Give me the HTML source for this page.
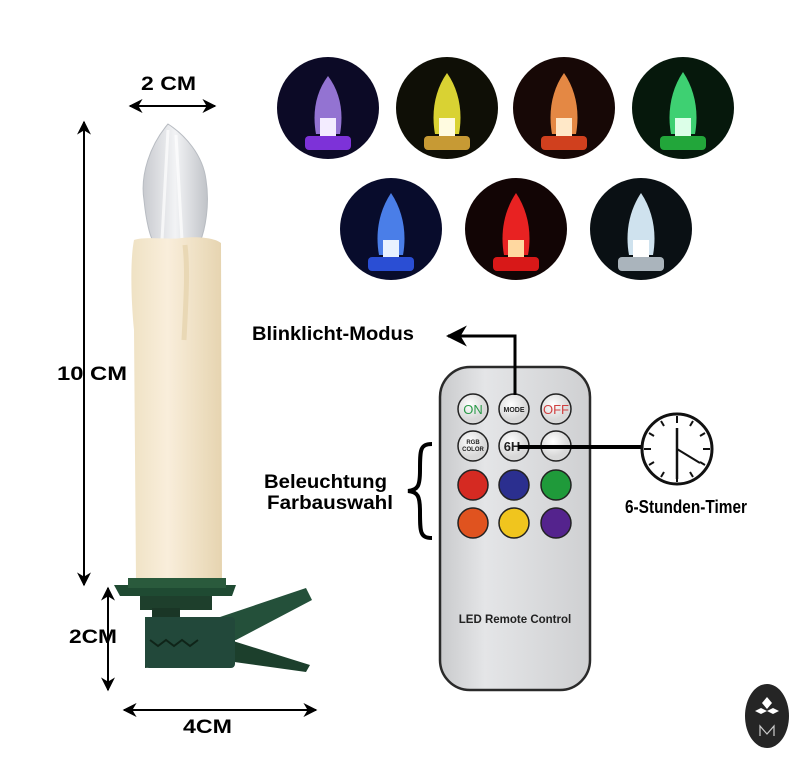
<!DOCTYPE html>
<html><head><meta charset="utf-8"><style>
html,body{margin:0;padding:0;background:#fff;}
svg{display:block;font-family:"Liberation Sans",Arial,sans-serif;}
</style></head><body>
<svg width="803" height="768" viewBox="0 0 803 768" xmlns="http://www.w3.org/2000/svg">
<defs>
<marker id="ah" viewBox="0 0 10 10" refX="9" refY="5" markerWidth="7" markerHeight="7" orient="auto-start-reverse"><path d="M0,0 L10,5 L0,10 L3,5 z" fill="#000"/></marker>
<linearGradient id="cand" x1="0" x2="1"><stop offset="0" stop-color="#efe2c4"/><stop offset="0.4" stop-color="#f9eedb"/><stop offset="1" stop-color="#e6d4b0"/></linearGradient>
<linearGradient id="rem" x1="0" x2="1"><stop offset="0" stop-color="#c9cacc"/><stop offset="0.3" stop-color="#e4e5e7"/><stop offset="1" stop-color="#cfd0d2"/></linearGradient>
<radialGradient id="btn" cx="0.4" cy="0.35"><stop offset="0" stop-color="#fff"/><stop offset="1" stop-color="#d8d8d8"/></radialGradient>
<linearGradient id="flame" x1="0" x2="1"><stop offset="0" stop-color="#c8cacf"/><stop offset="0.5" stop-color="#f2f3f5"/><stop offset="1" stop-color="#c0c3c8"/></linearGradient>
</defs>

<!-- color circles -->
<g>
<circle cx="328" cy="108" r="51" fill="#0c0a26"/><path d="M328,76 C316,92 312,112 316,134 L340,134 C344,112 340,92 328,76z" fill="#a27ee6" opacity="0.9"/><rect x="320" y="118" width="16" height="18" fill="#f3ecff"/><rect x="305" y="136" width="46" height="14" rx="4" fill="#7d32d8"/>
<circle cx="447" cy="108" r="51" fill="#0f0f06"/><path d="M447,73 C435,90 431,112 435,134 L459,134 C463,112 459,90 447,73z" fill="#d9d233"/><rect x="439" y="118" width="16" height="18" fill="#fffbe0"/><rect x="424" y="136" width="46" height="14" rx="4" fill="#c79a34"/>
<circle cx="564" cy="108" r="51" fill="#170806"/><path d="M564,73 C552,90 548,112 552,134 L576,134 C580,112 576,90 564,73z" fill="#e48844"/><rect x="556" y="118" width="16" height="18" fill="#ffe8c8"/><rect x="541" y="136" width="46" height="14" rx="4" fill="#d0401e"/>
<circle cx="683" cy="108" r="51" fill="#06180c"/><path d="M683,72 C671,90 667,112 671,134 L695,134 C699,112 695,90 683,72z" fill="#3ed072"/><rect x="675" y="118" width="16" height="18" fill="#dcffe8"/><rect x="660" y="136" width="46" height="14" rx="4" fill="#22a63a"/>
<circle cx="391" cy="229" r="51" fill="#080c2c"/><path d="M391,193 C379,211 375,233 379,255 L403,255 C407,233 403,211 391,193z" fill="#4a7ee8"/><rect x="383" y="240" width="16" height="18" fill="#e8f2ff"/><rect x="368" y="257" width="46" height="14" rx="4" fill="#2a4ed4"/>
<circle cx="516" cy="229" r="51" fill="#120505"/><path d="M516,193 C504,211 500,233 504,255 L528,255 C532,233 528,211 516,193z" fill="#e82222"/><rect x="508" y="240" width="16" height="18" fill="#ffd8a0"/><rect x="493" y="257" width="46" height="14" rx="4" fill="#d81818"/>
<circle cx="641" cy="229" r="51" fill="#0a1014"/><path d="M641,193 C629,211 625,233 629,255 L653,255 C657,233 653,211 641,193z" fill="#cfe2ee"/><rect x="633" y="240" width="16" height="18" fill="#fff"/><rect x="618" y="257" width="46" height="14" rx="4" fill="#aab4bc"/>
</g>

<!-- dimension arrows -->
<line x1="130" y1="106" x2="215" y2="106" stroke="#000" stroke-width="2" marker-start="url(#ah)" marker-end="url(#ah)"/>
<text x="141" y="90" font-size="19" font-weight="bold" textLength="55" lengthAdjust="spacingAndGlyphs">2 CM</text>
<line x1="84" y1="122" x2="84" y2="585" stroke="#000" stroke-width="2" marker-start="url(#ah)" marker-end="url(#ah)"/>
<text x="57" y="380" font-size="19" font-weight="bold" textLength="70" lengthAdjust="spacingAndGlyphs">10 CM</text>
<line x1="108" y1="588" x2="108" y2="690" stroke="#000" stroke-width="2" marker-start="url(#ah)" marker-end="url(#ah)"/>
<text x="69" y="643" font-size="19" font-weight="bold" textLength="48" lengthAdjust="spacingAndGlyphs">2CM</text>
<line x1="124" y1="710" x2="316" y2="710" stroke="#000" stroke-width="2" marker-start="url(#ah)" marker-end="url(#ah)"/>
<text x="183" y="733" font-size="19" font-weight="bold" textLength="49" lengthAdjust="spacingAndGlyphs">4CM</text>

<!-- candle -->
<path d="M168,124 C150,145 140,175 144,200 C146,220 150,238 154,242 L200,242 C205,230 210,205 206,180 C203,155 185,135 168,124z" fill="url(#flame)" stroke="#b8bcc2" stroke-width="1"/>
<path d="M168,130 L162,240 M176,135 L182,240" stroke="#fff" stroke-width="3" opacity="0.7"/>
<path d="M134,240 C145,236 170,240 182,238 C198,236 215,238 221,243 L222,580 L136,580 L134,330 C131,300 130,260 134,240z" fill="url(#cand)"/>
<path d="M185,245 C188,270 186,300 184,340" stroke="#e9d8b5" stroke-width="5" fill="none"/>
<!-- base -->
<path d="M114,585 L236,585 L232,596 L120,596 z" fill="#1f4a32"/>
<rect x="128" y="578" width="98" height="10" fill="#2a5a3c"/>
<rect x="140" y="596" width="72" height="14" fill="#1e3f2c"/>
<rect x="152" y="608" width="28" height="10" fill="#1a3626"/>
<path d="M145,617 L220,617 L306,588 L312,600 L236,640 L145,640 z" fill="#24503a"/>
<path d="M145,640 L230,640 L310,665 L306,672 L220,660 L145,668 z" fill="#1c3f2c"/>
<rect x="145" y="617" width="90" height="51" rx="4" fill="#22483a"/>
<path d="M150,640 l8,6 l8,-6 l8,6 l8,-6 l8,6 l8,-6" stroke="#0f2418" stroke-width="2" fill="none"/>

<!-- remote -->
<rect x="440" y="367" width="150" height="323" rx="30" fill="url(#rem)" stroke="#2a2a2a" stroke-width="2.5"/>
<g stroke="#222" stroke-width="1.5">
<circle cx="473" cy="409" r="15" fill="url(#btn)"/><circle cx="514" cy="409" r="15" fill="url(#btn)"/><circle cx="556" cy="409" r="15" fill="url(#btn)"/>
<circle cx="473" cy="446" r="15" fill="url(#btn)"/><circle cx="514" cy="446" r="15" fill="url(#btn)"/><circle cx="556" cy="446" r="15" fill="url(#btn)"/>
<circle cx="473" cy="485" r="15" fill="#d52a22"/><circle cx="514" cy="485" r="15" fill="#2b2f8f"/><circle cx="556" cy="485" r="15" fill="#1f9a3a"/>
<circle cx="473" cy="523" r="15" fill="#e0531f"/><circle cx="514" cy="523" r="15" fill="#f0c51e"/><circle cx="556" cy="523" r="15" fill="#54238d"/>
</g>
<text x="473" y="414" font-size="13" fill="#2a9a48" text-anchor="middle">ON</text>
<text x="514" y="412" font-size="7" font-weight="bold" fill="#222" text-anchor="middle">MODE</text>
<text x="556" y="414" font-size="13" fill="#d04040" text-anchor="middle">OFF</text>
<text x="473" y="444" font-size="6" font-weight="bold" fill="#222" text-anchor="middle">RGB</text>
<text x="473" y="451" font-size="6" font-weight="bold" fill="#222" text-anchor="middle">COLOR</text>
<text x="512" y="451" font-size="13" font-weight="bold" fill="#222" text-anchor="middle">6H</text>
<text x="515" y="623" font-size="11.5" font-weight="bold" fill="#222" text-anchor="middle">LED Remote Control</text>

<!-- connectors -->
<polyline points="515,395 515,336 448,336" fill="none" stroke="#000" stroke-width="3" marker-end="url(#ah)"/>
<line x1="518" y1="447" x2="642" y2="447" stroke="#000" stroke-width="4"/>
<text x="252" y="340" font-size="19" font-weight="bold" fill="#000" textLength="162" lengthAdjust="spacingAndGlyphs">Blinklicht-Modus</text>
<text x="264" y="488" font-size="19" font-weight="bold" textLength="123" lengthAdjust="spacingAndGlyphs">Beleuchtung</text>
<text x="267" y="509" font-size="19" font-weight="bold" textLength="126" lengthAdjust="spacingAndGlyphs">Farbauswahl</text>
<path d="M432,444 C420,444 420,450 420,470 C420,486 418,490 408,491 C418,492 420,496 420,512 C420,532 420,538 432,538" fill="none" stroke="#000" stroke-width="4"/>

<!-- clock -->
<circle cx="677" cy="449" r="35" fill="#fff" stroke="#111" stroke-width="3"/>
<g stroke="#111" stroke-width="2">
<line x1="677" y1="416" x2="677" y2="423"/><line x1="677" y1="475" x2="677" y2="482"/>
<line x1="644" y1="449" x2="651" y2="449"/><line x1="703" y1="449" x2="710" y2="449"/>
<line x1="693" y1="421" x2="690" y2="426"/><line x1="705" y1="433" x2="700" y2="436"/>
<line x1="705" y1="465" x2="700" y2="462"/><line x1="693" y1="477" x2="690" y2="472"/>
<line x1="661" y1="477" x2="664" y2="472"/><line x1="649" y1="465" x2="654" y2="462"/>
<line x1="649" y1="433" x2="654" y2="436"/><line x1="661" y1="421" x2="664" y2="426"/>
<line x1="677" y1="449" x2="677" y2="428" stroke-width="2.5"/><line x1="677" y1="449" x2="677" y2="479" stroke-width="2.5"/>
<line x1="677" y1="449" x2="700" y2="463" stroke-width="2"/>
</g>
<text x="625" y="513" font-size="18" font-weight="bold" textLength="122" lengthAdjust="spacingAndGlyphs">6-Stunden-Timer</text>

<!-- logo -->
<ellipse cx="767" cy="716" rx="22" ry="32" fill="#252525"/>
<path d="M767,697 l5,6 l-5,6 l-5,-6z M755,711 l6,-3 l6,3 l-6,3z M767,711 l6,-3 l6,3 l-6,3z" fill="#fff"/>
<path d="M760,736 l0,-10 l7,8 l7,-8 l0,10" stroke="#ccc" fill="none" stroke-width="1.2"/>
</svg>
</body></html>
